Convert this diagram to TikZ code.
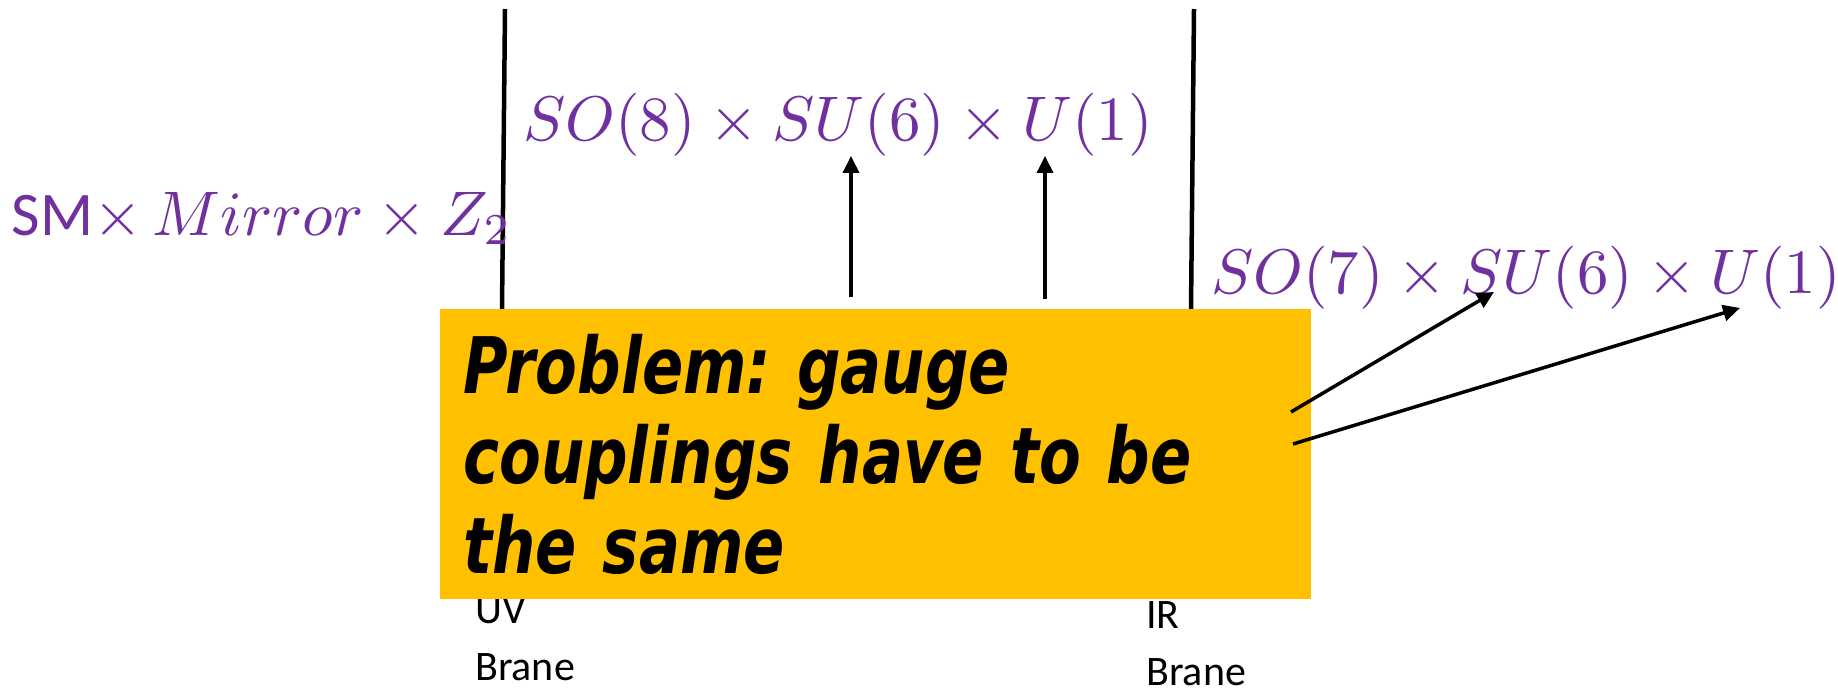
\documentclass[tikz,border=0pt]{standalone}
\usepackage{fontspec}
\usetikzlibrary{arrows.meta}
\definecolor{gp}{HTML}{7030a0}
\definecolor{gy}{HTML}{ffc000}
\definecolor{gk}{HTML}{000000}
\newfontfamily\calfont{Carlito}
\newfontfamily\comicfont[FakeStretch=0.78]{DejaVu Sans}
% math at large size: scale the 10pt formula
\newcommand{\bigmath}[1]{\scalebox{6.3}{\fontsize{10}{12}\selectfont$#1$}}

\begin{document}
\begin{tikzpicture}[x=1pt,y=-1pt,
  brane/.style={gk,line width=4.5pt},
  arr/.style={gk,line width=3.5pt,-{Triangle[length=17pt,width=16pt]}},
  grp/.style={gp,anchor=base,inner sep=0pt,font=\calfont\fontsize{62}{70}\selectfont},
  lbl/.style={gk,anchor=south west,inner sep=0pt,align=left,font=\calfont\fontsize{42}{57}\selectfont}]
  \useasboundingbox (0,0) rectangle (1838,694);
  \fill[white] (0,0) rectangle (1838,694);

  % The two branes
  \draw[brane] (505,9) -- (502,309);
  \draw[brane] (1194,9) -- (1191,309);

  % Brane names (the box covers the top of them)
  \node[lbl] (uv) at (475,681) {UV\\Brane};
  \node[lbl] (ir) at (1146,686) {IR\\Brane};

  % Gauge groups in bulk, on the IR brane and on the UV brane
  \node[grp] (bulk) at (838,140) {\bigmath{SO(8)\times SU(6)\times U(1)}};
  \node[grp] (irgrp) at (1526,293) {\bigmath{SO(7)\times SU(6)\times U(1)}};
  \node[grp] (uvgrp) at (262,235) {SM\bigmath{\times\,Mirror\times Z_2}};

  % The problem box
  \node[fill=gy,anchor=north west,minimum width=871pt,minimum height=290pt,
        text width=825pt,inner xsep=23pt,inner ysep=0pt,align=left,
        font=\comicfont\bfseries\itshape\fontsize{78}{90}\selectfont\frenchspacing]
    (prob) at (440,309) {Problem: gauge\\couplings have to be\\the same};

  % Arrows up to the bulk group
  \coordinate (up1) at (851,297);
  \coordinate (up2) at (1045,299);
  \draw[arr] (up1) -- (up1 |- bulk.south);
  \draw[arr] (up2) -- (up2 |- bulk.south);

  % Arrows from the box to the IR group
  \coordinate (ir1) at (1291,412);
  \coordinate (ir2) at (1293,444);
  \draw[arr] (ir1) -- ([xshift=283pt,yshift=17pt]irgrp.south west);
  \draw[arr] (ir2) -- ([xshift=529pt,yshift=1pt]irgrp.south west);

\end{tikzpicture}
\end{document}
